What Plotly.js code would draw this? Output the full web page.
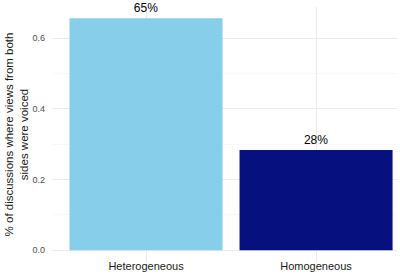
<!DOCTYPE html>
<html>
<head>
<meta charset="utf-8">
<script src="https://cdn.plot.ly/plotly-3.0.1.min.js"></script>
<style>html,body{margin:0;padding:0;background:#fff;overflow:hidden;}#chart{width:400px;height:275px;}</style>
</head>
<body>
<div id="chart"></div>
<script>
const categories = ["Heterogeneous", "Homogeneous"];
const values = [0.656, 0.284];
const labels = ["65%", "28%"];
const colors = ["#87CEEB", "#06107f"];
const yTicks = [0, 0.2, 0.4, 0.6];
const yTickText = ["0.0", "0.2", "0.4", "0.6"];

const trace = {
  type: "bar",
  x: categories,
  y: values,
  text: labels,
  textposition: "outside",
  cliponaxis: false,
  textfont: {family: "Liberation Sans, Arial, sans-serif", size: 12, color: "#000"},
  marker: {color: colors, line: {width: 0}},
  width: 0.9,
  hoverinfo: "none"
};

const layout = {
  width: 400, height: 275,
  margin: {l: 52, r: 3, t: 7, b: 13, pad: 0},
  paper_bgcolor: "#fff", plot_bgcolor: "#fff",
  showlegend: false,
  font: {family: "Liberation Sans, Arial, sans-serif"},
  xaxis: {
    type: "category",
    range: [-0.553, 1.476],
    showgrid: true, gridcolor: "#ebebeb", gridwidth: 1,
    zeroline: false, showline: false, ticks: "",
    tickfont: {size: 11, color: "#1a1a1a"},
    ticklabelstandoff: -4,
    automargin: false
  },
  yaxis: {
    range: [-0.033, 0.688],
    tickvals: yTicks, ticktext: yTickText,
    showgrid: true, gridcolor: "#ebebeb", gridwidth: 1,
    minor: {dtick: 0.1, showgrid: true, gridcolor: "#f3f3f3", gridwidth: 0.6},
    zeroline: false, showline: false, ticks: "",
    tickfont: {size: 9, color: "#4d4d4d"},
    ticklabelstandoff: 6,
    automargin: false,
    title: {text: "% of discussions where views from both<br>sides were voiced",
            font: {size: 11.5, color: "#1a1a1a"}, standoff: 1}
  }
};

Plotly.newPlot("chart", [trace], layout, {displayModeBar: false, staticPlot: true});
</script>
</body>
</html>
